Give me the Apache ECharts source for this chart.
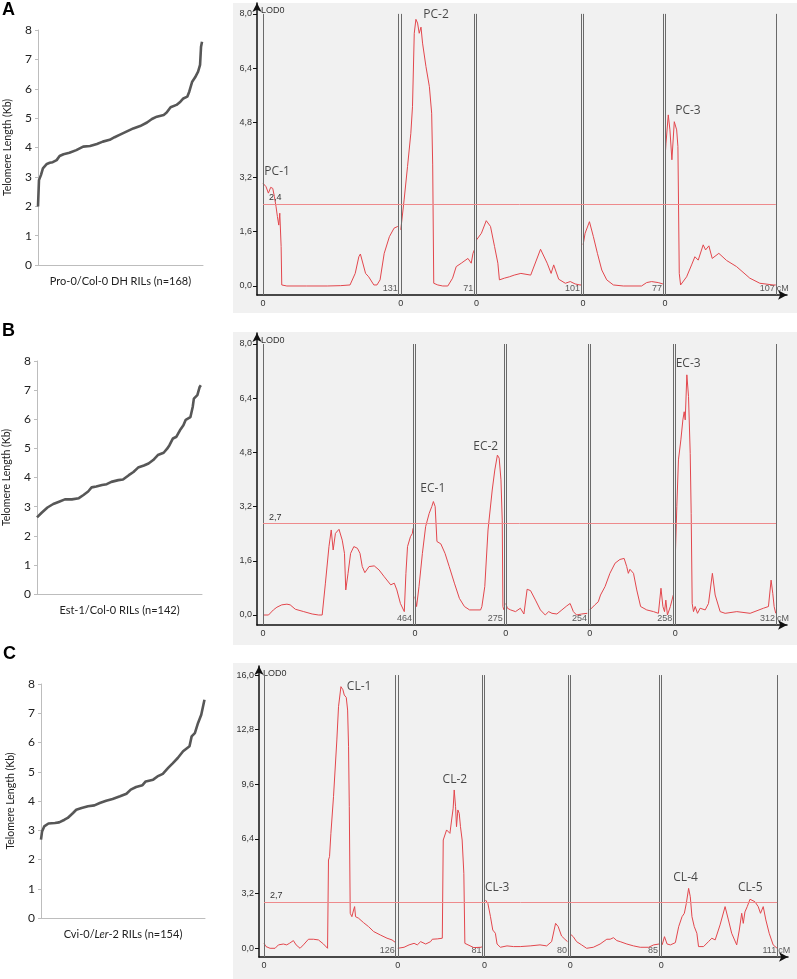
<!DOCTYPE html>
<html><head><meta charset="utf-8">
<script src="https://cdn.jsdelivr.net/npm/echarts@6/dist/echarts.min.js"></script>
<style>html,body{margin:0;padding:0;background:#fff}#c{width:797px;height:979px}</style>
</head><body><div id="c"></div>
<script>
// ---------- Telomere length distributions (rank, Kb) ----------
const teloA = [[1,1.99],[2,2.89],[4,3.06],[6,3.29],[10,3.44],[13,3.48],[16,3.5],[20,3.57],[23,3.71],[27,3.77],[33,3.82],[40,3.91],[47,4.03],[54,4.05],[61,4.12],[67,4.2],[74,4.26],[79,4.35],[84,4.43],[91,4.54],[98,4.65],[105,4.73],[112,4.85],[117,4.97],[122,5.05],[129,5.11],[132,5.19],[136,5.37],[142,5.45],[146,5.56],[149,5.67],[153,5.73],[155,5.9],[158,6.24],[161,6.39],[164,6.58],[166,6.81],[167,7.43],[168,7.6]];
const teloB = [[1,2.63],[5,2.79],[10,2.97],[15,3.09],[20,3.17],[25,3.25],[31,3.25],[37,3.29],[41,3.4],[45,3.52],[48,3.66],[52,3.69],[57,3.74],[61,3.77],[65,3.85],[71,3.91],[75,3.93],[80,4.08],[84,4.19],[88,4.34],[93,4.41],[97,4.48],[101,4.6],[105,4.77],[110,4.85],[113,4.99],[115,5.11],[118,5.34],[121,5.4],[124,5.62],[127,5.79],[129,5.98],[133,6.07],[135,6.42],[136,6.71],[139,6.83],[141,7.11],[142,7.17]];
const teloC = [[1,2.68],[2,2.96],[4,3.13],[8,3.23],[14,3.25],[18,3.27],[23,3.36],[26,3.42],[31,3.59],[34,3.7],[39,3.76],[45,3.82],[51,3.85],[56,3.93],[62,4.01],[68,4.07],[75,4.16],[81,4.25],[85,4.39],[90,4.48],[96,4.54],[99,4.67],[106,4.73],[110,4.84],[115,4.93],[120,5.13],[124,5.28],[129,5.47],[134,5.7],[140,5.87],[142,6.21],[145,6.32],[148,6.67],[151,6.95],[152,7.12],[154,7.46]];
const teloNames = ['Pro-0/Col-0 DH RILs (n=168)', 'Est-1/Col-0 RILs (n=142)', '{a|Cvi-0/}{i|Ler}{a|-2 RILs (n=154)}'];

// ---------- Chromosome lengths (cM) ----------
const chrLenA = [131, 71, 101, 77, 107];
const chrLenB = [464, 275, 254, 258, 312];
const chrLenC = [126, 81, 80, 85, 111];

// ---------- LOD profiles, [cM within chromosome, LOD] ----------
const lodA1 = [[0,3.02],[2.9,2.92],[5.2,2.73],[7.4,2.9],[9.4,2.87],[11,2.63],[12.6,2.33],[13.9,2.04],[15.2,1.79],[16.2,2.14],[16.8,2.19],[17.5,1.16],[18.1,0.03],[23,0],[42,0],[62,0],[75,0.01],[84,0.03],[89,0.37],[92.5,0.86],[94,0.94],[99,0.37],[102,0.27],[107,0.03],[110,0.03],[113,0.18],[117,0.96],[122,1.45],[126.5,1.7],[130,1.75],[131,1.75]];
const lodA2 = [[0,1.65],[3.2,2.53],[6.5,3.51],[9.7,4.49],[11.3,5.27],[13,7.43],[14.6,7.84],[16.2,7.73],[17.8,7.43],[19.5,7.61],[21,7.14],[24.3,6.45],[27.6,5.86],[29.8,5.08],[30.8,3.56],[31.8,0.08],[35.7,0.03],[40.5,0],[45.4,0],[50,0.23],[53.5,0.57],[58.4,0.67],[64.8,0.81],[68,0.67],[69.7,0.96],[71,1.06]];
const lodA3 = [[0,1.35],[4.8,1.55],[9.5,1.92],[13.6,1.75],[17.5,1.16],[20.7,0.67],[22.2,0.18],[27,0.23],[31.8,0.27],[36.5,0.32],[42.9,0.37],[52.4,0.32],[61.9,1.08],[68.3,0.67],[72.1,0.37],[74.6,0.62],[79.4,0.2],[85.8,0.08],[90.6,0.13],[95.3,0.06],[100,0.03],[101,0.03]];
const lodA4 = [[0,1.21],[1.9,1.55],[6.1,1.89],[9.9,1.45],[13.8,0.96],[18,0.47],[22.8,0.18],[29.2,0.03],[38.8,0],[56.4,0],[61.3,0.1],[66.1,0.13],[72.5,0.1],[77,0.06]];
const lodA5 = [[0.6,4.0],[1,4.2],[3.2,5.03],[4.8,4.59],[6.7,3.71],[9,4.83],[11.3,4.59],[12.5,4.1],[13.8,0.37],[15.1,0.03],[17,0.03],[20.9,0.27],[25.7,0.62],[28.9,0.86],[32.1,0.76],[36.9,1.21],[39.2,1.06],[42.4,1.18],[45.6,0.81],[52,0.96],[59.5,0.75],[69.1,0.57],[81.9,0.23],[91.6,0.08],[104.4,0.03],[107,0.03]];

const lodB1 = [[0,0],[6,0.05],[17,0],[32,0.15],[43,0.23],[58,0.3],[74,0.32],[84,0.3],[100,0.17],[126,0.1],[152,0.03],[172,0],[183,0],[193,0.94],[204,2.02],[211,2.51],[217,1.92],[224,2.41],[235,2.53],[245,2.21],[252,1.82],[256,0.74],[263,1.23],[271,1.82],[281,2.02],[292,1.97],[300,1.82],[307,1.43],[315,1.25],[328,1.43],[344,1.45],[359,1.33],[375,1.13],[395,0.89],[406,0.94],[414,0.74],[425,0.34],[437,0.1],[442,1.23],[447,2.02],[456,2.31],[462,2.41],[464,2.56]];
const lodB2 = [[0,0.54],[5,0.25],[12.5,0.84],[23,1.82],[33,2.61],[44,3.0],[52,3.2],[57,3.35],[62.5,3.2],[68,2.17],[80,2.1],[93,1.82],[106,1.43],[122,0.94],[137.5,0.49],[153,0.25],[169,0.15],[203,0.15],[207,0.25],[216,0.84],[226,2.51],[239,3.69],[247,4.28],[255,4.72],[260.5,4.63],[266,3.99],[270,2.8],[272,0.25],[275,0.15]];
const lodB3 = [[0,0.34],[5,0.2],[15,0.15],[30,0.1],[45,0.2],[56,0.03],[66,0.76],[76.5,0.72],[91.8,0.44],[107,0.15],[122,0],[132.6,0.1],[142.8,0.05],[158,0.03],[173.4,0.15],[188.7,0.27],[199,0.34],[209,0.1],[219,0],[234.7,0.03],[251.9,0.05],[254,0.05]];
const lodB4 = [[0,0.15],[15.5,0.3],[26,0.39],[33,0.59],[47,0.84],[62,1.23],[78,1.53],[93,1.64],[106,1.67],[114,1.43],[119,1.23],[124,1.35],[135,1.23],[145,0.74],[157,0.25],[176,0.15],[197,0.1],[212,0.05],[220,0.79],[226,0.25],[231,0.1],[235,0.44],[240,0],[249,0.25],[258,0.59]];
const lodB5 = [[1,1.92],[5,3.2],[10,4.58],[17.5,5.17],[23.7,5.76],[27.8,6.0],[31,5.76],[36,7.09],[41.2,6.45],[46.4,4.77],[49.4,3.0],[52.5,0.34],[56.6,0.1],[61.8,0.25],[69,0.05],[77,0.2],[92.7,0.15],[103,0.34],[115,1.23],[123.6,0.59],[139,0.1],[154.5,0.05],[190.5,0.1],[231.8,0.05],[273,0.2],[288.4,0.25],[296.6,1.03],[301.8,0.64],[306,0.25],[311,0.05]];

const lodC1 = [[0,0.29],[1.9,0.1],[5.8,0],[10.6,0],[13.8,0.2],[18.5,0.25],[21.7,0.2],[24.3,0.29],[25.6,0.2],[28.1,0.45],[30.7,0.2],[34.5,0],[37.7,0.2],[42.5,0.53],[47.3,0.53],[52.1,0.49],[56.9,0.25],[60.8,0],[61.7,5.17],[62.7,5.37],[64,6.73],[66.5,8.88],[69.7,12.2],[71.3,14.15],[73.6,15.32],[75.5,15.14],[76.8,14.83],[78.7,14.69],[80,13.95],[80.9,11.8],[81.6,8.29],[82.5,2.05],[84.1,1.85],[85.7,2.24],[86.7,2.44],[87.6,1.85],[90.5,1.76],[95.3,1.5],[100,1.27],[104.9,0.98],[111.3,0.78],[117.7,0.59],[122.5,0.49],[126,0.33]];
const lodC2 = [[0,0],[6,0.06],[10.8,0.2],[15.6,0.29],[18.7,0.2],[21.9,0.39],[26.7,0.25],[31.4,0.39],[33,0.53],[37.8,0.55],[42.6,0.59],[43.5,6.34],[44.8,6.24],[46.7,6.93],[47.9,7.02],[49.9,6.73],[51.5,7.51],[53,8.2],[54,9.27],[55.3,8.29],[56.2,7.12],[57.5,8.1],[58.8,7.9],[60,7.12],[61.6,6.34],[63.2,4.39],[64.2,0.29],[65.7,0.2],[72.7,0.04],[79.7,0.06],[81,0.1]];
const lodC3 = [[0.9,2.83],[3.2,2.63],[5.7,1.85],[7.9,1.07],[10.4,0.88],[12,0.25],[15.2,0.06],[21.5,0.14],[27.8,0.1],[34.2,0.1],[43.7,0.14],[53.1,0.2],[59.5,0.14],[64.2,0.39],[68,1.46],[70.5,1.27],[73.7,0.72],[76.9,0.53],[79.4,0.39]];
const lodC4 = [[0,0.84],[2.9,0.68],[6.1,0.39],[10.9,0.2],[15.7,0],[22.1,0.06],[28.6,0.25],[35,0.53],[38.2,0.53],[41.4,0.62],[44.6,0.45],[47.8,0.39],[54.2,0.25],[60.6,0.14],[67,0.06],[75,0.06],[79.9,0.2],[85,0.25]];
const lodC5 = [[1,0.2],[3.2,0.68],[5.7,0.25],[8.9,0.2],[13.6,0.33],[16.8,1.27],[20,1.85],[22.2,2.05],[24.1,2.63],[26.3,3.51],[27.9,3.02],[29.5,1.85],[31.7,1.27],[34.2,0.88],[35.8,0.1],[40.6,0.1],[45.3,0.39],[48.5,0.59],[51.7,0.49],[56.4,1.37],[61.2,2.44],[64.4,1.66],[67.5,0.88],[72.3,0.2],[74.8,1.07],[77.1,2.05],[78.6,1.46],[80.2,2.13],[82.4,2.44],[85,2.87],[86.6,2.79],[89.7,2.73],[92.9,2.44],[95.1,2.05],[97.7,2.44],[100.2,1.66],[103.4,0.88],[107.2,0.2],[111,0]];

// ---------- QTL labels: [chromosome, cM, LOD, text] ----------
const peaksA = [[1,13.6,3.35,'PC-1'],[2,34,7.97,'PC-2'],[5,22.2,5.15,'PC-3']];
const peaksB = [[2,55.3,3.72,'EC-1'],[2,219,4.97,'EC-2'],[5,40,7.43,'EC-3']];
const peaksC = [[1,91,15.3,'CL-1'],[2,54.6,9.9,'CL-2'],[3,12.1,3.57,'CL-3'],[5,23.4,4.16,'CL-4'],[5,85.3,3.57,'CL-5']];

// ---------- thresholds & LOD ticks ----------
const thresholds = [2.4, 2.7, 2.7];
const lodTicksAB = [0, 1.6, 3.2, 4.8, 6.4, 8.0];
const lodTicksC = [0, 3.2, 6.4, 9.6, 12.8, 16.0];

// ================= build =================
const grids = [], xAxes = [], yAxes = [], series = [];
const SMALL = {fontSize: 9, fontFamily: 'Liberation Sans', color: '#333'};
const comma = v => (Math.round(v*10)/10).toFixed(1).replace('.', ',');

function teloPanel(grid, data, name, xMax){
  const gi = grids.length; grids.push(grid);
  xAxes.push({gridIndex: gi, type: 'value', min: 1, max: xMax,
    axisLine: {onZero: false, lineStyle: {color: '#bdbdbd', width: 1}},
    axisTick: {show: false}, axisLabel: {show: false}, splitLine: {show: false},
    name: name, nameLocation: 'middle', nameGap: 11,
    nameTextStyle: {fontSize: 11, fontFamily: 'Lato', color: '#222',
      rich: {a: {fontSize: 11, fontFamily: 'Lato', color: '#222'}, i: {fontSize: 11, fontFamily: 'Lato', color: '#222', fontStyle: 'italic'}}}});
  yAxes.push({gridIndex: gi, type: 'value', min: 0, max: 8, interval: 1,
    axisLine: {show: true, onZero: false, lineStyle: {color: '#bdbdbd', width: 1}},
    axisTick: {show: true, length: 3, lineStyle: {color: '#bdbdbd'}},
    axisLabel: {fontSize: 12, fontFamily: 'Lato', color: '#222', margin: 6},
    splitLine: {show: false},
    name: 'Telomere Length (Kb)', nameLocation: 'middle', nameGap: 25,
    nameTextStyle: {fontSize: 10.5, fontFamily: 'Lato', color: '#222'}});
  series.push({type: 'line', xAxisIndex: gi, yAxisIndex: gi, data: data, symbol: 'none',
    lineStyle: {color: '#575757', width: 2.6}, silent: true, animation: false});
}

function lodPanel(grid, lens, gap, lods, thr, peaks, ticks, yMin, yMax, xMin, xMax){
  const gi = grids.length; grids.push(grid);
  const offs = []; let s = 0;
  lens.forEach(l => { offs.push(s); s += l + gap; });
  const endX = offs[offs.length-1] + lens[lens.length-1];
  const yTop = ticks[ticks.length-1];
  xAxes.push({gridIndex: gi, type: 'value', min: xMin, max: xMax,
    axisLine: {onZero: false, symbol: ['none','arrow'], symbolSize: [7, 9], lineStyle: {color: '#111', width: 1.5}},
    axisTick: {show: false}, splitLine: {show: false},
    axisLabel: {customValues: offs, formatter: () => '0', margin: 4, ...SMALL}});
  yAxes.push({gridIndex: gi, type: 'value', min: yMin, max: yMax,
    name: 'LOD0', nameLocation: 'end', nameGap: -3,
    nameTextStyle: {align: 'left', verticalAlign: 'top', padding: [0,0,0,4], ...SMALL},
    axisLine: {onZero: false, symbol: ['none','arrow'], symbolSize: [7, 9], lineStyle: {color: '#111', width: 1.5}},
    axisTick: {customValues: ticks, length: 4, lineStyle: {color: '#111'}},
    axisLabel: {customValues: ticks, formatter: v => comma(v), margin: 5, ...SMALL},
    splitLine: {show: false}});
  lods.forEach((arr, i) => {
    series.push({type: 'line', xAxisIndex: gi, yAxisIndex: gi, symbol: 'none', silent: true, animation: false,
      data: arr.map(p => [offs[i] + p[0], p[1]]), lineStyle: {color: '#e3474d', width: 1}});
  });
  const vlines = [];
  lens.forEach((l, i) => {
    [offs[i], offs[i] + l].forEach(x => vlines.push([{coord: [x, yMin]}, {coord: [x, yTop]}]));
  });
  const thrStyle = {color: '#ee8a8c', width: 1, type: 'solid'};
  const thrLabel = {show: true, formatter: comma(thr), position: 'insideStartTop', distance: [6, 2], ...SMALL};
  vlines.push([{coord: [0, thr], lineStyle: thrStyle, label: thrLabel}, {coord: [endX, thr], lineStyle: thrStyle, label: thrLabel}]);
  const endLabels = lens.map((l, i) => ({value: [offs[i] + l, yMin, String(l)]}));
  endLabels.push({value: [endX, yMin, 'cM'], label: {position: 'right'}});
  series.push({type: 'scatter', xAxisIndex: gi, yAxisIndex: gi, symbolSize: 0, silent: true, animation: false,
    data: endLabels,
    label: {show: true, position: 'left', distance: 1, offset: [0, -6], formatter: p => p.data.value[2], ...SMALL},
    markLine: {silent: true, symbol: ['none','none'], animation: false,
      lineStyle: {color: '#6a6a6a', width: 1, type: 'solid'}, label: {show: false}, data: vlines}});
  series.push({type: 'scatter', xAxisIndex: gi, yAxisIndex: gi, symbolSize: 0, silent: true, animation: false,
    data: peaks.map(p => [offs[p[0]-1] + p[1], p[2], p[3]]),
    label: {show: true, position: 'inside', formatter: p => p.data[2], fontSize: 12, fontFamily: 'Open Sans', color: '#1a1a1a'}});
}

teloPanel({left: 38, top: 30, width: 165, height: 235}, teloA, teloNames[0], 169);
lodPanel({left: 257, top: 3, width: 530, height: 292}, chrLenA, 2, [lodA1, lodA2, lodA3, lodA4, lodA5], thresholds[0], peaksA, lodTicksAB, -0.265, 8.32, -5.8, 505.8);
teloPanel({left: 36, top: 361, width: 166, height: 233}, teloB, teloNames[1], 143);
lodPanel({left: 257, top: 333, width: 530, height: 292}, chrLenB, 6, [lodB1, lodB2, lodB3, lodB4, lodB5], thresholds[1], peaksB, lodTicksAB, -0.295, 8.325, -18.6, 1620.8);
teloPanel({left: 41, top: 684, width: 164, height: 234}, teloC, teloNames[2], 154.5);
lodPanel({left: 259, top: 666, width: 529, height: 291}, chrLenC, 2, [lodC1, lodC2, lodC3, lodC4, lodC5], thresholds[2], peaksC, lodTicksC, -0.51, 16.53, -4.8, 501.4);

const bg = '#f1f1f1';
const chart = echarts.init(document.getElementById('c'), null, {renderer: 'canvas'});
chart.setOption({
  animation: false,
  backgroundColor: '#ffffff',
  grid: grids, xAxis: xAxes, yAxis: yAxes, series: series,
  graphic: [
    {type: 'rect', silent: true, z: -10, shape: {x: 233, y: 3, width: 564, height: 310}, style: {fill: bg}},
    {type: 'rect', silent: true, z: -10, shape: {x: 233, y: 332, width: 564, height: 313}, style: {fill: bg}},
    {type: 'rect', silent: true, z: -10, shape: {x: 233, y: 663, width: 564, height: 316}, style: {fill: bg}},
    {type: 'text', silent: true, style: {text: 'A', x: 2, y: 1, font: 'bold 18px "Liberation Sans"', fill: '#000', verticalAlign: 'top'}},
    {type: 'text', silent: true, style: {text: 'B', x: 2, y: 322, font: 'bold 18px "Liberation Sans"', fill: '#000', verticalAlign: 'top'}},
    {type: 'text', silent: true, style: {text: 'C', x: 3, y: 645, font: 'bold 18px "Liberation Sans"', fill: '#000', verticalAlign: 'top'}}
  ]
});
</script>
</body></html>
